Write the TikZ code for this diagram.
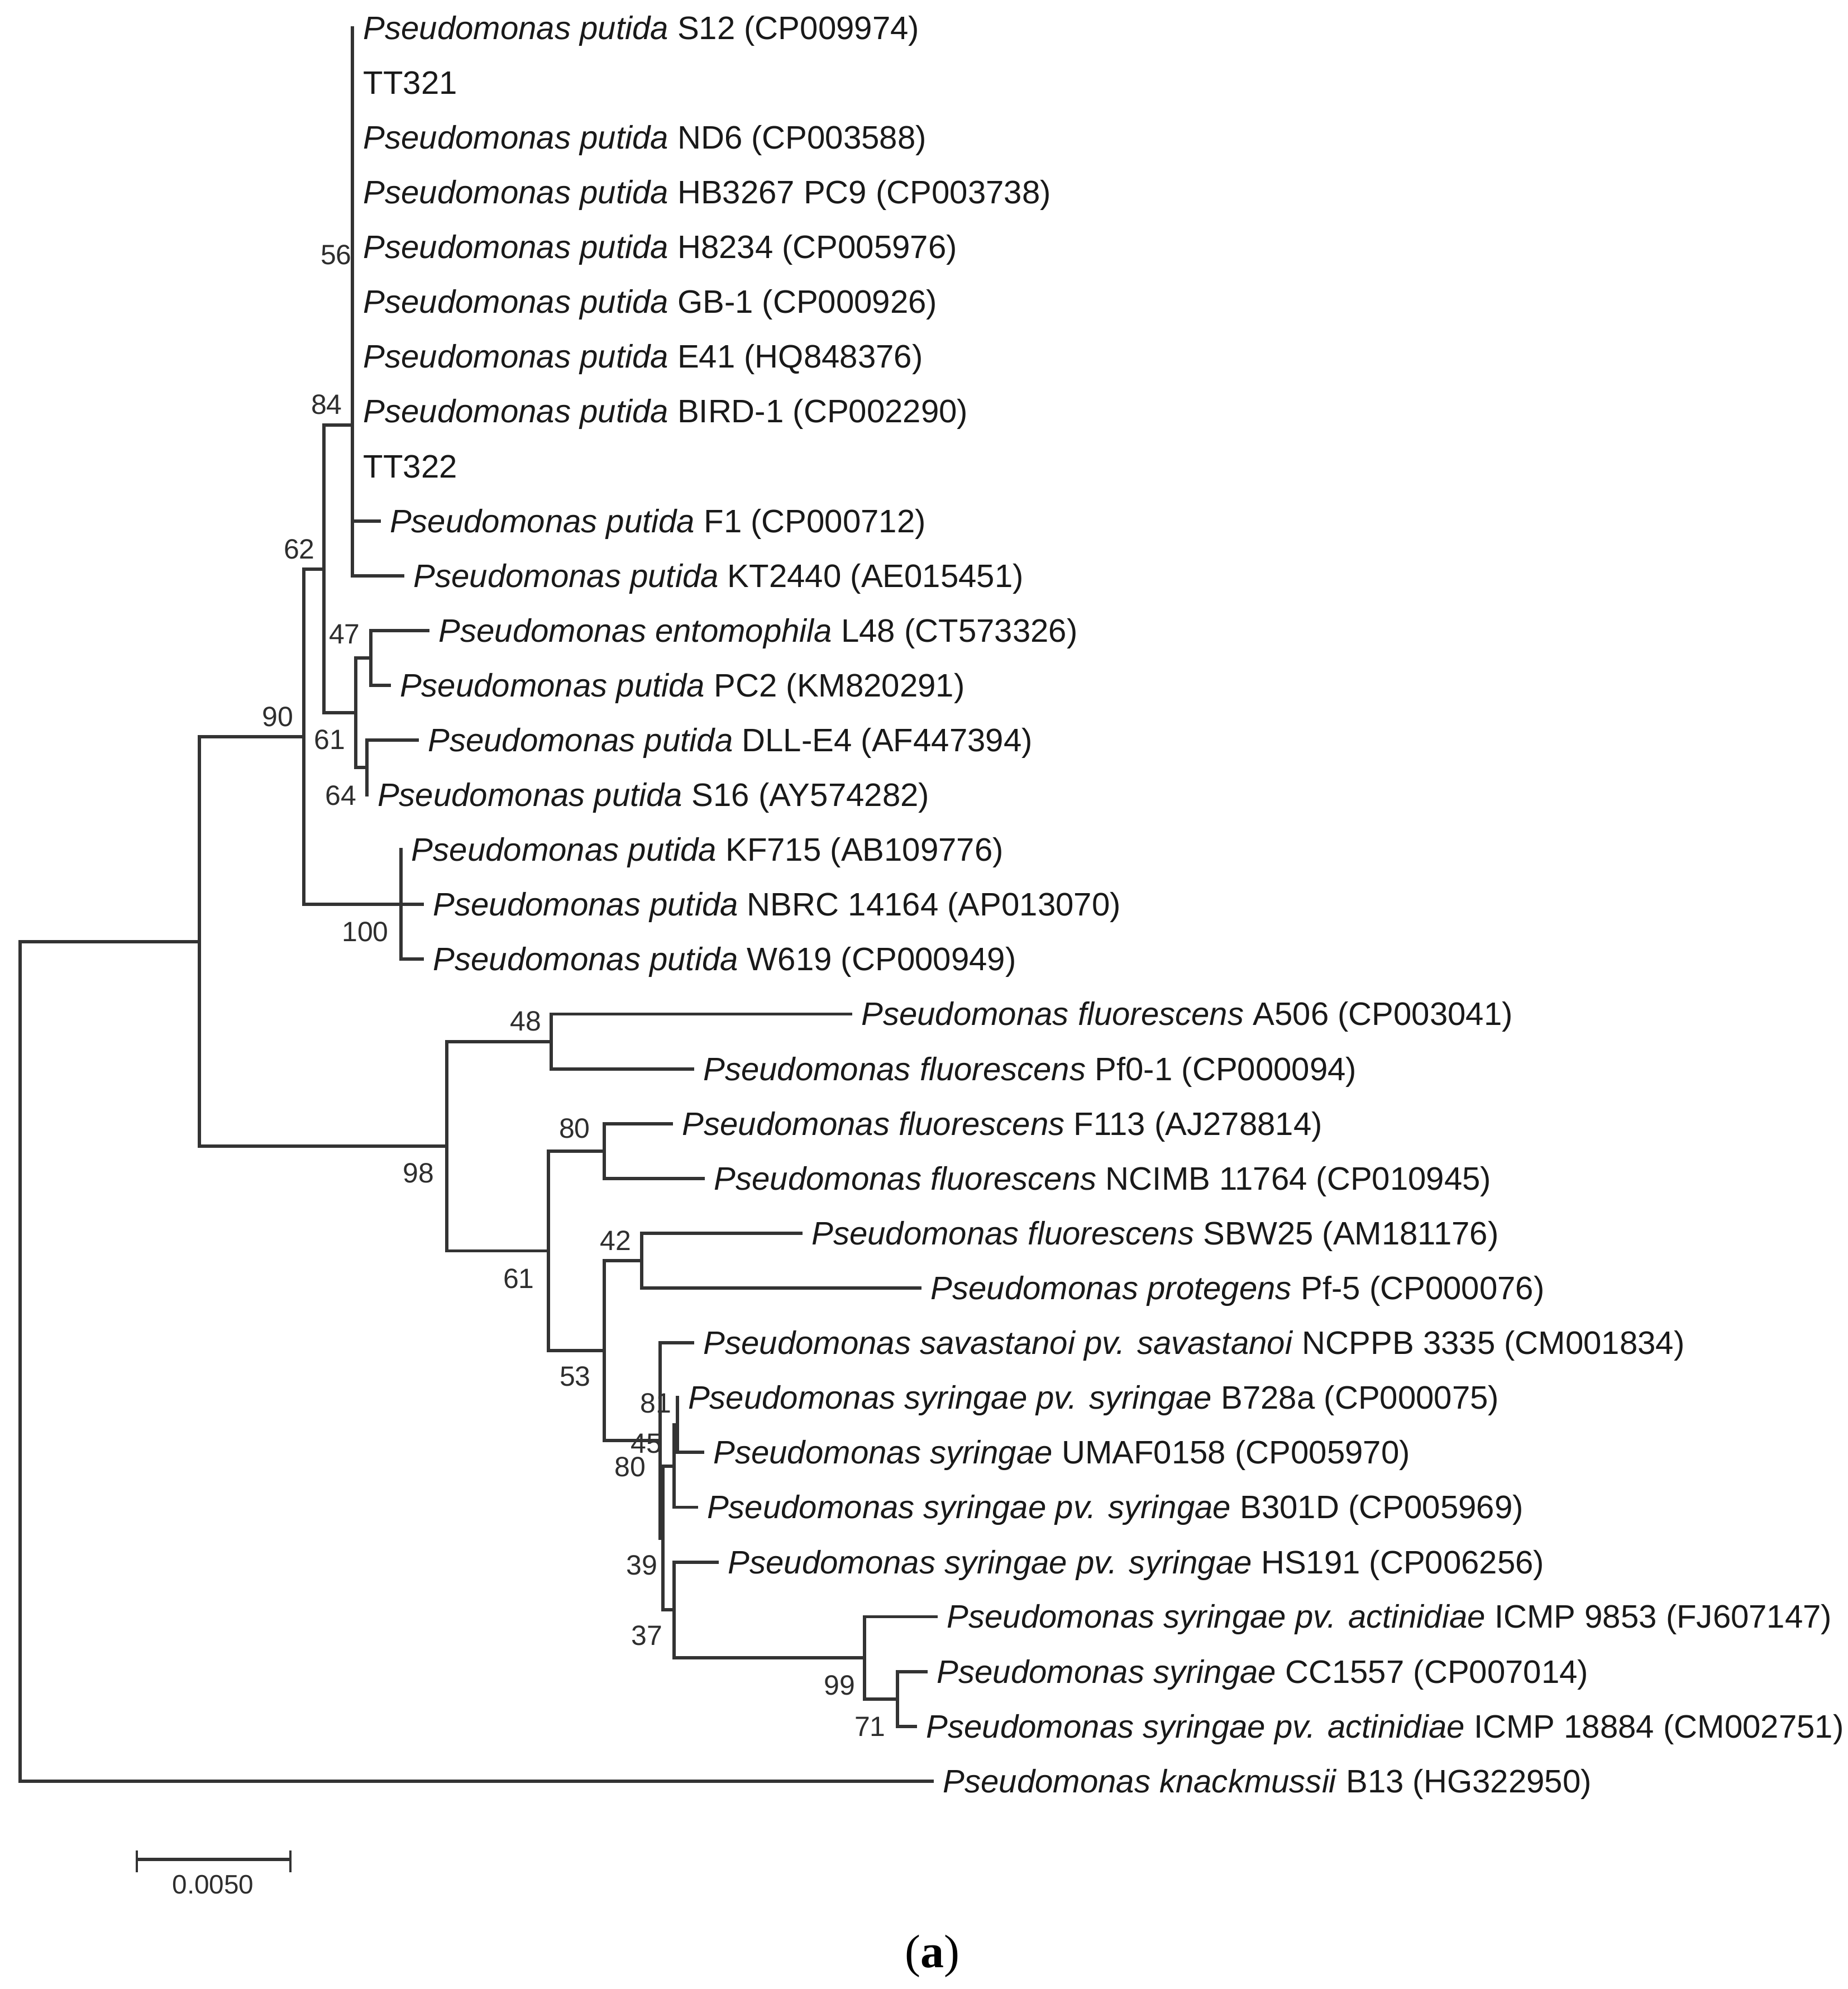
\documentclass[tikz,border=0pt]{standalone}
\usepackage{fontspec}
\setmainfont{Liberation Sans}
\newfontfamily\capfont{Liberation Serif}

\begin{document}
\begin{tikzpicture}[x=1pt,y=-1pt,
  branch/.style={draw=lineColor,line width=2.6pt,line cap=rect,line join=miter},
  tick/.style={draw=lineColor,line width=1.8pt},
  taxon/.style={anchor=base west,inner sep=0pt,outer sep=0pt,xshift=8.5pt,yshift=-9pt,text=textColor,font=\fontsize{25.6}{30}\selectfont},
  boot/.style={inner sep=0pt,outer sep=0pt,text=bootColor,font=\fontsize{22}{26}\selectfont},
  scalelab/.style={inner sep=0pt,outer sep=0pt,text=bootColor,font=\fontsize{21}{25}\selectfont},
  caption/.style={anchor=base,inner sep=0pt,outer sep=0pt,text=black,font=\capfont\fontsize{37}{44}\selectfont}]
\definecolor[named]{lineColor}{rgb}{0.20,0.20,0.20}
\definecolor[named]{textColor}{rgb}{0.10,0.10,0.10}
\definecolor[named]{bootColor}{rgb}{0.18,0.18,0.18}
\path[use as bounding box,fill=white] (0,0) rectangle (1457,1568);

% internal nodes of the tree
\coordinate (root) at (16,1073.2);
\coordinate (nA) at (157,742.2);
\coordinate (n90) at (239.7,580.8);
\coordinate (n62) at (255.5,448.5);
\coordinate (n84) at (278,335.1);
\coordinate (n56) at (278,216.35);
\coordinate (n61a) at (280.4,561.9);
\coordinate (n47) at (292.2,518.7);
\coordinate (n64) at (289.2,605.1);
\coordinate (n100) at (316,713.05);
\coordinate (n98) at (352.3,903.5);
\coordinate (n48) at (434.5,821.0);
\coordinate (n61b) at (432.4,986.1);
\coordinate (n80a) at (476.6,907.4);
\coordinate (n53) at (476.6,1064.7);
\coordinate (n42) at (506,993.8);
\coordinate (n45) at (520.4,1135.6);
\coordinate (n39) at (522.8,1212.5);
\coordinate (n80b) at (531.5,1155.8);
\coordinate (n81) at (534,1123.4);
\coordinate (n37) at (531.5,1269.2);
\coordinate (n99) at (681.7,1306.9);
\coordinate (n71) at (707.4,1339.3);

% leaves (branch ends)
\coordinate (lS12) at (278,22.0);
\coordinate (lTT321) at (278,65.2);
\coordinate (lND6) at (278,108.4);
\coordinate (lHB3267) at (278,151.6);
\coordinate (lH8234) at (278,194.8);
\coordinate (lGB1) at (278,237.9);
\coordinate (lE41) at (278,281.1);
\coordinate (lBIRD1) at (278,324.3);
\coordinate (lTT322) at (278,367.5);
\coordinate (lF1) at (298.9,410.7);
\coordinate (lKT2440) at (317.6,453.9);
\coordinate (lL48) at (337.4,497.1);
\coordinate (lPC2) at (306.8,540.3);
\coordinate (lDLLE4) at (328.9,583.5);
\coordinate (lS16) at (289.2,626.7);
\coordinate (lKF715) at (316,669.9);
\coordinate (lNBRC) at (333,713.0);
\coordinate (lW619) at (333,756.2);
\coordinate (lA506) at (670.6,799.4);
\coordinate (lPf01) at (546,842.6);
\coordinate (lF113) at (529.4,885.8);
\coordinate (lNCIMB) at (554.5,929.0);
\coordinate (lSBW25) at (631.4,972.2);
\coordinate (lPf5) at (725.4,1015.4);
\coordinate (lNCPPB) at (546.1,1058.6);
\coordinate (lB728a) at (534,1101.8);
\coordinate (lUMAF) at (554,1145.0);
\coordinate (lB301D) at (549,1188.2);
\coordinate (lHS191) at (565.5,1231.4);
\coordinate (lICMP9853) at (738.2,1274.5);
\coordinate (lCC1557) at (730.2,1317.7);
\coordinate (lICMP18884) at (721.9,1360.9);
\coordinate (lB13) at (735,1404.1);

% taxon labels
\node[taxon] (tS12) at (lS12) {\textit{Pseudomonas putida} S12 (CP009974)};
\node[taxon] (tTT321) at (lTT321) {TT321};
\node[taxon] (tND6) at (lND6) {\textit{Pseudomonas putida} ND6 (CP003588)};
\node[taxon] (tHB3267) at (lHB3267) {\textit{Pseudomonas putida} HB3267 PC9 (CP003738)};
\node[taxon] (tH8234) at (lH8234) {\textit{Pseudomonas putida} H8234 (CP005976)};
\node[taxon] (tGB1) at (lGB1) {\textit{Pseudomonas putida} GB-1 (CP000926)};
\node[taxon] (tE41) at (lE41) {\textit{Pseudomonas putida} E41 (HQ848376)};
\node[taxon] (tBIRD1) at (lBIRD1) {\textit{Pseudomonas putida} BIRD-1 (CP002290)};
\node[taxon] (tTT322) at (lTT322) {TT322};
\node[taxon] (tF1) at (lF1) {\textit{Pseudomonas putida} F1 (CP000712)};
\node[taxon] (tKT2440) at (lKT2440) {\textit{Pseudomonas putida} KT2440 (AE015451)};
\node[taxon] (tL48) at (lL48) {\textit{Pseudomonas entomophila} L48 (CT573326)};
\node[taxon] (tPC2) at (lPC2) {\textit{Pseudomonas putida} PC2 (KM820291)};
\node[taxon] (tDLLE4) at (lDLLE4) {\textit{Pseudomonas putida} DLL-E4 (AF447394)};
\node[taxon] (tS16) at (lS16) {\textit{Pseudomonas putida} S16 (AY574282)};
\node[taxon] (tKF715) at (lKF715) {\textit{Pseudomonas putida} KF715 (AB109776)};
\node[taxon] (tNBRC) at (lNBRC) {\textit{Pseudomonas putida} NBRC 14164 (AP013070)};
\node[taxon] (tW619) at (lW619) {\textit{Pseudomonas putida} W619 (CP000949)};
\node[taxon] (tA506) at (lA506) {\textit{Pseudomonas fluorescens} A506 (CP003041)};
\node[taxon] (tPf01) at (lPf01) {\textit{Pseudomonas fluorescens} Pf0-1 (CP000094)};
\node[taxon] (tF113) at (lF113) {\textit{Pseudomonas fluorescens} F113 (AJ278814)};
\node[taxon] (tNCIMB) at (lNCIMB) {\textit{Pseudomonas fluorescens} NCIMB 11764 (CP010945)};
\node[taxon] (tSBW25) at (lSBW25) {\textit{Pseudomonas fluorescens} SBW25 (AM181176)};
\node[taxon] (tPf5) at (lPf5) {\textit{Pseudomonas protegens} Pf-5 (CP000076)};
\node[taxon] (tNCPPB) at (lNCPPB) {\textit{Pseudomonas savastanoi pv. savastanoi} NCPPB 3335 (CM001834)};
\node[taxon] (tB728a) at (lB728a) {\textit{Pseudomonas syringae pv. syringae} B728a (CP000075)};
\node[taxon] (tUMAF) at (lUMAF) {\textit{Pseudomonas syringae} UMAF0158 (CP005970)};
\node[taxon] (tB301D) at (lB301D) {\textit{Pseudomonas syringae pv. syringae} B301D (CP005969)};
\node[taxon] (tHS191) at (lHS191) {\textit{Pseudomonas syringae pv. syringae} HS191 (CP006256)};
\node[taxon] (tICMP9853) at (lICMP9853) {\textit{Pseudomonas syringae pv. actinidiae} ICMP 9853 (FJ607147)};
\node[taxon] (tCC1557) at (lCC1557) {\textit{Pseudomonas syringae} CC1557 (CP007014)};
\node[taxon] (tICMP18884) at (lICMP18884) {\textit{Pseudomonas syringae pv. actinidiae} ICMP 18884 (CM002751)};
\node[taxon] (tB13) at (lB13) {\textit{Pseudomonas knackmussii} B13 (HG322950)};

% bootstrap values
\node[boot] (b56) at (265,201) {56};
\node[boot] (b84) at (257.5,318.8) {84};
\node[boot] (b62) at (236,433) {62};
\node[boot] (b47) at (271.6,500) {47};
\node[boot] (b61a) at (260,583) {61};
\node[boot] (b64) at (268.6,627) {64};
\node[boot] (b90) at (219,565) {90};
\node[boot] (b100) at (288,734.6) {100};
\node[boot] (b98) at (330,925) {98};
\node[boot] (b48) at (414.5,805) {48};
\node[boot] (b80a) at (453,889.6) {80};
\node[boot] (b42) at (485.5,978) {42};
\node[boot] (b61b) at (409,1008) {61};
\node[boot] (b53) at (453.5,1085) {53};
\node[boot] (b81) at (517,1106) {81};
\node[boot] (b45) at (509.5,1138) {45};
\node[boot] (b80b) at (497,1156.5) {80};
\node[boot] (b39) at (506,1234) {39};
\node[boot] (b37) at (510,1289.6) {37};
\node[boot] (b99) at (662,1328.6) {99};
\node[boot] (b71) at (686,1361) {71};

% branches
\draw[branch] (root) |- (nA);
\draw[branch] (root) |- (lB13);
\draw[branch] (nA) |- (n90);
\draw[branch] (nA) |- (n98);
\draw[branch] (n90) |- (n62);
\draw[branch] (n90) |- (n100);
\draw[branch] (n62) |- (n84);
\draw[branch] (n62) |- (n61a);
\draw[branch] (n84) |- (n56);
\draw[branch] (n84) |- (lKT2440);
\draw[branch] (n56) |- (lS12);
\draw[branch] (n56) |- (lTT321);
\draw[branch] (n56) |- (lND6);
\draw[branch] (n56) |- (lHB3267);
\draw[branch] (n56) |- (lH8234);
\draw[branch] (n56) |- (lGB1);
\draw[branch] (n56) |- (lE41);
\draw[branch] (n56) |- (lBIRD1);
\draw[branch] (n56) |- (lTT322);
\draw[branch] (n56) |- (lF1);
\draw[branch] (n61a) |- (n47);
\draw[branch] (n61a) |- (n64);
\draw[branch] (n47) |- (lL48);
\draw[branch] (n47) |- (lPC2);
\draw[branch] (n64) |- (lDLLE4);
\draw[branch] (n64) |- (lS16);
\draw[branch] (n100) |- (lKF715);
\draw[branch] (n100) |- (lNBRC);
\draw[branch] (n100) |- (lW619);
\draw[branch] (n98) |- (n48);
\draw[branch] (n98) |- (n61b);
\draw[branch] (n48) |- (lA506);
\draw[branch] (n48) |- (lPf01);
\draw[branch] (n61b) |- (n80a);
\draw[branch] (n61b) |- (n53);
\draw[branch] (n80a) |- (lF113);
\draw[branch] (n80a) |- (lNCIMB);
\draw[branch] (n53) |- (n42);
\draw[branch] (n53) |- (n45);
\draw[branch] (n42) |- (lSBW25);
\draw[branch] (n42) |- (lPf5);
\draw[branch] (n45) |- (lNCPPB);
\draw[branch] (n45) |- (n39);
\draw[branch] (n39) |- (n80b);
\draw[branch] (n39) |- (n37);
\draw[branch] (n80b) |- (n81);
\draw[branch] (n80b) |- (lB301D);
\draw[branch] (n81) |- (lB728a);
\draw[branch] (n81) |- (lUMAF);
\draw[branch] (n37) |- (lHS191);
\draw[branch] (n37) |- (n99);
\draw[branch] (n99) |- (lICMP9853);
\draw[branch] (n99) |- (n71);
\draw[branch] (n71) |- (lCC1557);
\draw[branch] (n71) |- (lICMP18884);

% scale bar
\coordinate (sbL) at (107.7,1466);
\coordinate (sbR) at (229,1466);
\coordinate (sbLt) at (107.7,1459);
\coordinate (sbLb) at (107.7,1476);
\coordinate (sbRt) at (229,1459);
\coordinate (sbRb) at (229,1476);
\draw[branch,line cap=butt] (sbL) -- (sbR);
\draw[tick] (sbLt) -- (sbLb);
\draw[tick] (sbRt) -- (sbRb);
\node[scalelab] (sbText) at (168,1485.7) {0.0050};

\node[caption] (cap) at (735.3,1551) {(\textbf{a})};
\end{tikzpicture}
\end{document}
